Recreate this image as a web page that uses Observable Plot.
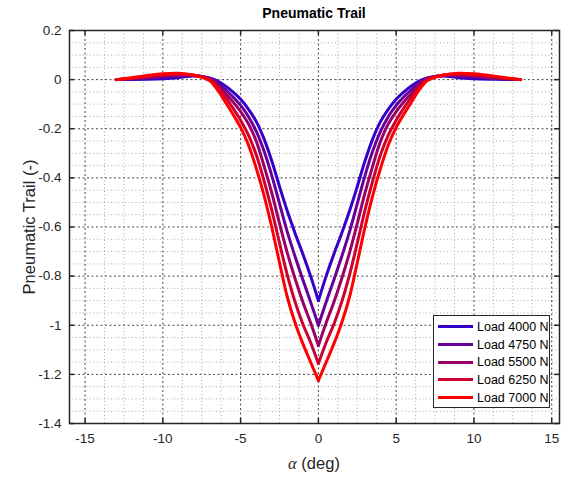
<!DOCTYPE html>
<html><head><meta charset="utf-8">
<script src="https://cdn.jsdelivr.net/npm/d3@7"></script>
<script src="https://cdn.jsdelivr.net/npm/@observablehq/plot@0.6"></script>
<style>
body{margin:0;background:#fff;font-family:"Liberation Sans",Arial,Helvetica,sans-serif;}
#wrap{position:relative;width:567px;height:478px;overflow:hidden;}
#title{position:absolute;left:69px;top:2px;width:490px;text-align:center;font-weight:bold;font-size:14px;line-height:22px;color:#000;}
#chart{position:absolute;left:0;top:22px;}
#legend{position:absolute;left:433px;top:315px;width:117px;height:93px;box-sizing:border-box;border:1px solid #262626;background:#fff;padding-top:2px;}
.item{height:17.7px;display:flex;align-items:center;font-size:12.5px;color:#000;}
.sw{display:inline-block;width:35px;height:3px;margin-left:4px;margin-right:4px;}
</style></head><body>
<div id="wrap"><div id="title">Pneumatic Trail</div><div id="chart"></div><div id="legend"></div></div>
<script>
const alpha = [-13,-12,-11,-10,-9,-8,-7,-6.5,-6,-5.5,-5,-4.5,-4,-3.5,-3,-2.5,-2,-1.5,-1,-0.5,0,0.5,1,1.5,2,2.5,3,3.5,4,4.5,5,5.5,6,6.5,7,8,9,10,11,12,13];
const load4000 = [0,0.001,0.002,0.004,0.008,0.015,0.007,-0.005,-0.025,-0.05,-0.08,-0.12,-0.17,-0.24,-0.33,-0.435,-0.535,-0.625,-0.71,-0.80,-0.90,-0.80,-0.71,-0.625,-0.535,-0.435,-0.33,-0.24,-0.17,-0.12,-0.08,-0.05,-0.025,-0.005,0.007,0.015,0.008,0.004,0.002,0.001,0];
const load4750 = [0,0.003,0.006,0.010,0.014,0.017,0.005,-0.012,-0.04,-0.07,-0.105,-0.15,-0.21,-0.29,-0.39,-0.505,-0.62,-0.72,-0.815,-0.905,-1.00,-0.905,-0.815,-0.72,-0.62,-0.505,-0.39,-0.29,-0.21,-0.15,-0.105,-0.07,-0.04,-0.012,0.005,0.017,0.014,0.010,0.006,0.003,0];
const load5500 = [0,0.004,0.009,0.015,0.019,0.018,0.003,-0.02,-0.055,-0.09,-0.13,-0.18,-0.25,-0.35,-0.46,-0.585,-0.705,-0.81,-0.905,-0.99,-1.083,-0.99,-0.905,-0.81,-0.705,-0.585,-0.46,-0.35,-0.25,-0.18,-0.13,-0.09,-0.055,-0.02,0.003,0.018,0.019,0.015,0.009,0.004,0];
const load6250 = [0,0.006,0.013,0.020,0.023,0.018,0.0,-0.03,-0.07,-0.115,-0.165,-0.225,-0.305,-0.41,-0.53,-0.665,-0.795,-0.905,-0.995,-1.07,-1.156,-1.07,-0.995,-0.905,-0.795,-0.665,-0.53,-0.41,-0.305,-0.225,-0.165,-0.115,-0.07,-0.03,0.0,0.018,0.023,0.020,0.013,0.006,0];
const load7000 = [0,0.008,0.017,0.024,0.026,0.018,-0.004,-0.04,-0.09,-0.14,-0.195,-0.265,-0.36,-0.47,-0.60,-0.745,-0.885,-0.99,-1.075,-1.15,-1.225,-1.15,-1.075,-0.99,-0.885,-0.745,-0.60,-0.47,-0.36,-0.265,-0.195,-0.14,-0.09,-0.04,-0.004,0.018,0.026,0.024,0.017,0.008,0];
const loadNames = ["Load 4000 N","Load 4750 N","Load 5500 N","Load 6250 N","Load 7000 N"];
const loadColors = ["#3300cc","#660099","#990066","#cc0033","#ff0000"];
const xTicks = [-15,-10,-5,0,5,10,15];
const yTicks = [0.2,0,-0.2,-0.4,-0.6,-0.8,-1,-1.2,-1.4];
const xMinor = [-13.75,-12.5,-11.25,-8.75,-7.5,-6.25,-3.75,-2.5,-1.25,1.25,2.5,3.75,6.25,7.5,8.75,11.25,12.5,13.75];
const yMinor = [0.15,0.1,0.05,-0.05,-0.1,-0.15,-0.25,-0.3,-0.35,-0.45,-0.5,-0.55,-0.65,-0.7,-0.75,-0.85,-0.9,-0.95,-1.05,-1.1,-1.15,-1.25,-1.3,-1.35];

const seriesValues = [load4000, load4750, load5500, load6250, load7000];
// each curve is drawn as two smooth branches that meet in the sharp vertex at alpha = 0
const rows = [];
seriesValues.forEach((vals, i) => vals.forEach((v, j) => {
  const a = alpha[j];
  if (a <= 0) rows.push({a, p: v, load: loadNames[i], branch: loadNames[i] + " L"});
  if (a >= 0) rows.push({a, p: v, load: loadNames[i], branch: loadNames[i] + " R"});
}));

const fmt = d => String(Math.round(d * 10) / 10);
const ink = "#262626";
const W = 567, H = 456, mL = 69, mR = 8, mT = 8, mB = 55;
const iw = W - mL - mR, ih = H - mT - mB;

const chart = Plot.plot({
  width: W, height: H, marginLeft: mL, marginRight: mR, marginTop: mT, marginBottom: mB,
  style: {fontFamily: '"Liberation Sans", Arial, Helvetica, sans-serif', fontSize: "13.5px", color: ink, background: "white", overflow: "visible"},
  x: {domain: [-16, 15.5]},
  y: {domain: [-1.4, 0.2]},
  color: {domain: loadNames, range: loadColors},
  marks: [
    Plot.ruleX(xMinor, {stroke: "#aaa", strokeDasharray: "1,2.5", strokeWidth: 1}),
    Plot.ruleY(yMinor, {stroke: "#aaa", strokeDasharray: "1,2.5", strokeWidth: 1}),
    Plot.ruleX(xTicks, {stroke: "#444", strokeDasharray: "2,2.5", strokeWidth: 1}),
    Plot.ruleY(yTicks, {stroke: "#444", strokeDasharray: "2,2.5", strokeWidth: 1}),
    Plot.line(rows, {x: "a", y: "p", z: "branch", stroke: "load", strokeWidth: 3, strokeLinejoin: "round", curve: "catmull-rom"}),
    Plot.frame({stroke: ink, strokeWidth: 1.5}),
    Plot.ruleX(xTicks, {insetTop: ih - 5, stroke: ink, strokeWidth: 1.5}),
    Plot.ruleX(xTicks, {insetBottom: ih - 5, stroke: ink, strokeWidth: 1.5}),
    Plot.ruleY(yTicks, {insetRight: iw - 5, stroke: ink, strokeWidth: 1.5}),
    Plot.ruleY(yTicks, {insetLeft: iw - 5, stroke: ink, strokeWidth: 1.5}),
    Plot.axisX(xTicks, {tickSize: 0, tickPadding: 10, tickFormat: fmt, label: null, fill: ink}),
    Plot.axisY(yTicks, {tickSize: 0, tickPadding: 8, tickFormat: fmt, label: "Pneumatic Trail (-)", labelAnchor: "center", labelArrow: "none", labelOffset: 46, fill: ink})
  ]
});
document.getElementById("chart").appendChild(chart);

const svg = d3.select(chart);
svg.selectAll('[aria-label="y-axis label"] text').style("font-size", "16.5px");
const xl = svg.append("text")
  .attr("x", mL + iw / 2).attr("y", H - 9)
  .attr("text-anchor", "middle")
  .attr("fill", ink)
  .style("font-size", "16.5px");
xl.append("tspan").text("α").style("font-style", "italic").style("font-family", '"Liberation Serif", "DejaVu Serif", serif');
xl.append("tspan").text(" (deg)");

const legend = d3.select("#legend");
loadNames.forEach((name, i) => {
  const it = legend.append("div").attr("class", "item");
  it.append("span").attr("class", "sw").style("background", loadColors[i]);
  it.append("span").text(name);
});
</script>
</body></html>
